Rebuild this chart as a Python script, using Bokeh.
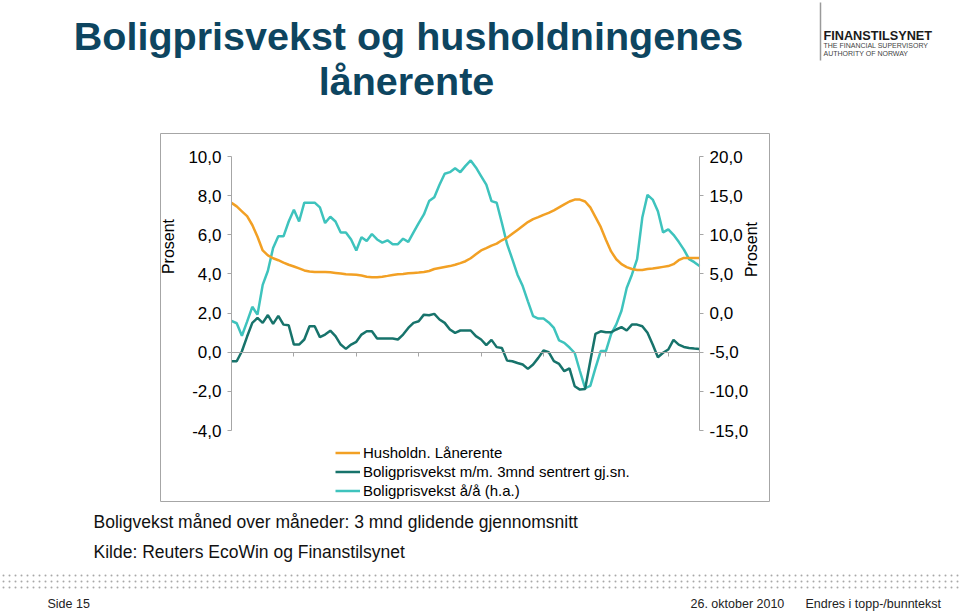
import numpy as np
from bokeh.plotting import figure
from bokeh.models import (Range1d, LinearAxis, FixedTicker, CustomJSTickFormatter,
                          Legend, LegendItem)
from bokeh.embed import file_html
from bokeh.resources import INLINE
from bokeh.core.properties import value

# ---------------- data (monthly) ----------------
month_index = list(range(91))

laanerente = [7.63, 7.45, 7.2, 6.95, 6.5, 5.9, 5.2, 4.95, 4.8, 4.7,
              4.58, 4.47, 4.38, 4.28, 4.18, 4.12, 4.1, 4.1, 4.1, 4.08,
              4.05, 4.02, 3.98, 3.97, 3.96, 3.92, 3.86, 3.83, 3.83, 3.86,
              3.9, 3.95, 3.98, 4.0, 4.03, 4.05, 4.07, 4.1, 4.15, 4.25,
              4.3, 4.35, 4.4, 4.47, 4.55, 4.65, 4.8, 5.0, 5.2, 5.32,
              5.45, 5.55, 5.72, 5.85, 6.05, 6.25, 6.45, 6.65, 6.8, 6.9,
              7.02, 7.12, 7.25, 7.4, 7.55, 7.7, 7.8, 7.8, 7.7, 7.4,
              6.9, 6.4, 5.75, 5.15, 4.75, 4.5, 4.35, 4.25, 4.2, 4.2,
              4.25, 4.28, 4.32, 4.36, 4.4, 4.5, 4.7, 4.82, 4.82, 4.82,
              4.82]

mm_3mnd = [-0.46, -0.46, 0.05, 0.8, 1.5, 1.75, 1.5, 1.9, 1.45, 1.86,
           1.41, 1.38, 0.39, 0.39, 0.65, 1.33, 1.33, 0.77, 0.9, 1.1,
           0.82, 0.39, 0.17, 0.39, 0.53, 0.9, 1.07, 1.07, 0.7, 0.7,
           0.7, 0.7, 0.65, 0.9, 1.24, 1.5, 1.58, 1.92, 1.89, 1.96,
           1.67, 1.5, 1.16, 0.99, 1.11, 1.11, 1.11, 0.82, 0.65, 0.36,
           0.63, 0.26, 0.22, -0.43, -0.46, -0.55, -0.63, -0.85, -0.63, -0.29,
           0.09, 0.0, -0.46, -0.6, -0.97, -0.83, -1.74, -1.91, -1.88, -0.45,
           0.94, 1.07, 1.02, 1.02, 1.16, 1.28, 1.11, 1.41, 1.41, 1.33,
           0.99, 0.39, -0.26, -0.03, 0.14, 0.63, 0.39, 0.27, 0.22, 0.19,
           0.17]

aa = [-1.0, -1.3, -2.9, -1.1, 0.8, -0.2, 3.6, 5.4, 8.3, 9.8,
      9.8, 11.7, 13.2, 11.7, 14.1, 14.1, 14.1, 13.5, 11.5, 12.3,
      11.7, 10.3, 10.3, 9.4, 8.0, 9.7, 9.2, 10.1, 9.4, 9.0,
      9.3, 8.8, 8.8, 9.5, 9.1, 10.3, 11.5, 12.6, 14.3, 14.8,
      16.4, 17.8, 18.0, 18.5, 18.0, 18.8, 19.5, 18.6, 17.5, 16.4,
      14.3, 14.1, 11.5, 8.8, 6.9, 4.9, 3.45, 1.5, -0.4, -0.7,
      -0.7, -1.2, -1.9, -3.5, -3.8, -4.4, -5.1, -7.4, -9.6, -9.3,
      -7.0, -4.85, -4.85, -2.7, -1.45, 0.3, 3.2, 4.9, 6.9, 12.2,
      15.1, 14.5, 13.0, 10.3, 10.7, 10.0, 9.1, 8.1, 6.9, 6.5,
      6.0]

left_ticks = [-4, -2, 0, 2, 4, 6, 8, 10]
right_ticks = [-15, -10, -5, 0, 5, 10, 15, 20]
year_ticks = [12, 24, 36, 48, 60, 72, 84]

series_labels = ["Husholdn. Lånerente",
                 "Boligprisvekst m/m. 3mnd sentrert gj.sn.",
                 "Boligprisvekst å/å (h.a.)"]

ORANGE = "#F2A024"
DARK = "#17736B"
LIGHT = "#3EC3BD"
AXIS = "#A6A6A6"
FONT = "Liberation Sans"

# ---------------- page geometry ----------------
W, H = 959, 613
FL, FR, FT, FB = 231, 699, 156, 430          # plot area in page pixels
XMIN, XMAX = 0, 90
YMIN, YMAX = left_ticks[0], left_ticks[-1]
RMIN, RMAX = right_ticks[0], right_ticks[-1]
sx = (XMAX - XMIN) / (FR - FL)
sy = (YMAX - YMIN) / (FB - FT)


def X(px):
    return XMIN + (px - FL) * sx


def Y(py):
    return YMAX - (py - FT) * sy


def R(yv):
    return RMIN + (yv - YMIN) * (RMAX - RMIN) / (YMAX - YMIN)


p = figure(width=W, height=H, output_backend="svg", toolbar_location=None,
           x_range=Range1d(X(0), X(W)), y_range=Range1d(Y(H), Y(0)),
           x_axis_location=None, y_axis_location=None)
p.min_border_left = p.min_border_right = p.min_border_top = p.min_border_bottom = 0
p.outline_line_color = None
p.background_fill_color = "white"
p.border_fill_color = "white"
p.grid.visible = False
p.xgrid.grid_line_color = None
p.ygrid.grid_line_color = None
p.extra_y_ranges = {"right": Range1d(R(Y(H)), R(Y(0)))}

fmt = CustomJSTickFormatter(code="return tick.toFixed(1).replace('.', ',');")


def style_axis(ax):
    ax.axis_line_color = AXIS
    ax.major_tick_line_color = AXIS
    ax.minor_tick_line_color = None
    ax.major_tick_out = 4
    ax.major_tick_in = 0
    ax.major_label_text_font = FONT
    ax.major_label_text_font_size = "17px"
    ax.major_label_text_color = "#000000"
    ax.major_label_standoff = 6


yl = LinearAxis(fixed_location=XMIN, bounds=(YMIN, YMAX),
                ticker=FixedTicker(ticks=left_ticks), formatter=fmt)
style_axis(yl)
p.add_layout(yl, "left")

yr = LinearAxis(y_range_name="right", fixed_location=XMAX, bounds=(RMIN, RMAX),
                ticker=FixedTicker(ticks=right_ticks), formatter=fmt)
style_axis(yr)
p.add_layout(yr, "right")

xa = LinearAxis(fixed_location=0, bounds=(XMIN, XMAX),
                ticker=FixedTicker(ticks=year_ticks),
                formatter=CustomJSTickFormatter(code="return '';"))
style_axis(xa)
p.add_layout(xa, "below")

# chart frame box
p.quad(left=X(160), right=X(769), top=Y(133), bottom=Y(501),
       fill_color=None, line_color=AXIS, line_width=1)

# series
r3 = p.line(month_index, aa, y_range_name="right", line_color=LIGHT, line_width=2.5)
r1 = p.line(month_index, laanerente, line_color=ORANGE, line_width=2.5)
r2 = p.line(month_index, mm_3mnd, line_color=DARK, line_width=2.5)

legend = Legend(items=[LegendItem(label=series_labels[0], renderers=[r1]),
                       LegendItem(label=series_labels[1], renderers=[r2]),
                       LegendItem(label=series_labels[2], renderers=[r3])],
                location=(335, H - 499.5), orientation="vertical",
                padding=0, margin=0, spacing=0, glyph_width=25, glyph_height=19,
                label_height=19, label_standoff=3, border_line_color=None,
                background_fill_alpha=0, label_text_font=FONT,
                label_text_font_size="15px", label_text_color="#000000")
p.add_layout(legend)


def txt(px, py, s, size, color="#000000", bold=False, align="left", angle=0.0):
    """py is the vertical centre of the text line, in page pixels."""
    p.text(x=[X(px)], y=[Y(py)], text=[s], text_font=value(FONT),
           text_font_size=value(size), text_color=color,
           text_font_style="bold" if bold else "normal",
           text_align=align, text_baseline="middle", angle=angle)


# axis titles
txt(168, 246, "Prosent", "16px", align="center", angle=np.pi / 2)
txt(751, 249, "Prosent", "16px", align="center", angle=np.pi / 2)

# slide title
TITLE = "#0D4560"
txt(408, 35, "Boligprisvekst og husholdningenes", "39.5px", TITLE, bold=True, align="center")
txt(406, 80, "lånerente", "39.5px", TITLE, bold=True, align="center")

# logo
p.segment(x0=[X(820)], y0=[Y(2)], x1=[X(820)], y1=[Y(60)], line_color="#9A9A9A", line_width=1.5)
txt(823, 35.5, "FINANSTILSYNET", "12.7px", "#1A1A1A", bold=True)
txt(823, 45, "THE FINANCIAL SUPERVISORY", "7px", "#444444")
txt(823, 52.5, "AUTHORITY OF NORWAY", "7px", "#444444")

# notes
txt(93, 521, "Boligvekst måned over måneder: 3 mnd glidende gjennomsnitt", "17.5px", "#111111")
txt(93, 551, "Kilde: Reuters EcoWin og Finanstilsynet", "17.5px", "#111111")

# dotted separator
dot_px = list(range(3, W, 6))
dots_x = [X(v) for v in dot_px] * 3
dots_y = [Y(575)] * len(dot_px) + [Y(581)] * len(dot_px) + [Y(587)] * len(dot_px)
p.scatter(dots_x, dots_y, marker="circle", size=2, color="#A8A8A8", line_color=None)

# footer
txt(47, 603.5, "Side 15", "12.5px", "#222222")
txt(690, 603.5, "26. oktober 2010", "12.5px", "#222222")
txt(805, 603.5, "Endres i topp-/bunntekst", "12.5px", "#222222")

open("out.html", "w").write(file_html(p, INLINE))
